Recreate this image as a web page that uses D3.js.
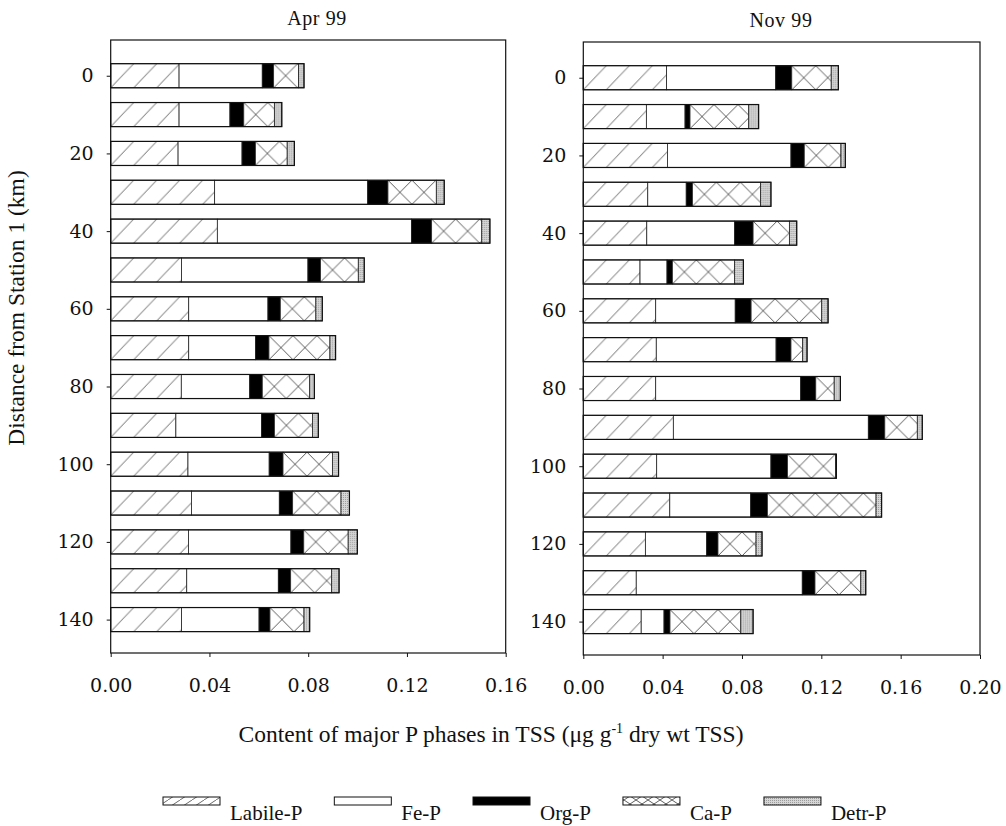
<!DOCTYPE html>
<html lang="en">
<head>
<meta charset="UTF-8" />
<title>Major P phases in TSS - Apr 99 / Nov 99</title>
<script src="https://d3js.org/d3.v7.min.js"></script>
<style>
  body { margin: 0; background: #fff; }
  svg { display: block; background: #fff; }
  .tick text { font-family: "DejaVu Serif", serif; font-size: 19px; fill: #111; }
  .tick line { stroke: #111; }
  .serif { font-family: "Liberation Serif", "Times New Roman", serif; fill: #111; }
</style>
</head>
<body>
<svg id="chart" width="1006" height="826"></svg>
<script>
// stations (km from Station 1) and P phases
const distances = [0, 10, 20, 30, 40, 50, 60, 70, 80, 90, 100, 110, 120, 130, 140];
const phases = ["Labile-P", "Fe-P", "Org-P", "Ca-P", "Detr-P"];

// Apr 99
const aprLabile = [0.0277, 0.0277, 0.0273, 0.0421, 0.0432, 0.0287, 0.0316, 0.0316, 0.0286, 0.0264, 0.0313, 0.0327, 0.0315, 0.0308, 0.0287];
const aprFe     = [0.0337, 0.0206, 0.0259, 0.0620, 0.0786, 0.0512, 0.0321, 0.0271, 0.0277, 0.0347, 0.0329, 0.0356, 0.0415, 0.0371, 0.0314];
const aprOrg    = [0.0046, 0.0056, 0.0054, 0.0082, 0.0082, 0.0051, 0.0050, 0.0054, 0.0051, 0.0052, 0.0056, 0.0054, 0.0052, 0.0050, 0.0044];
const aprCa     = [0.0101, 0.0124, 0.0129, 0.0196, 0.0203, 0.0153, 0.0144, 0.0247, 0.0192, 0.0154, 0.0200, 0.0196, 0.0180, 0.0166, 0.0138];
const aprDetr   = [0.0022, 0.0030, 0.0029, 0.0032, 0.0033, 0.0024, 0.0026, 0.0023, 0.0019, 0.0024, 0.0025, 0.0034, 0.0037, 0.0030, 0.0023];

// Nov 99
const novLabile = [0.0420, 0.0318, 0.0424, 0.0325, 0.0320, 0.0286, 0.0365, 0.0368, 0.0365, 0.0454, 0.0370, 0.0436, 0.0313, 0.0267, 0.0292];
const novFe     = [0.0550, 0.0195, 0.0623, 0.0194, 0.0443, 0.0136, 0.0401, 0.0604, 0.0731, 0.0983, 0.0576, 0.0408, 0.0309, 0.0837, 0.0115];
const novOrg    = [0.0081, 0.0025, 0.0067, 0.0031, 0.0093, 0.0027, 0.0080, 0.0075, 0.0076, 0.0083, 0.0083, 0.0084, 0.0057, 0.0064, 0.0030];
const novCa     = [0.0199, 0.0296, 0.0185, 0.0344, 0.0183, 0.0314, 0.0356, 0.0059, 0.0093, 0.0164, 0.0243, 0.0548, 0.0192, 0.0231, 0.0357];
const novDetr   = [0.0036, 0.0050, 0.0022, 0.0052, 0.0037, 0.0044, 0.0032, 0.0022, 0.0031, 0.0025, 0.0004, 0.0028, 0.0030, 0.0025, 0.0062];

// tick labels
const xTicksApr = [0, 0.04, 0.08, 0.12, 0.16];
const xTicksNov = [0, 0.04, 0.08, 0.12, 0.16, 0.20];
const yTicks = [0, 20, 40, 60, 80, 100, 120, 140];

function makeRows(series) {
  return distances.map((d, i) => {
    const row = { dist: d };
    phases.forEach((p, k) => { row[p] = series[k][i]; });
    return row;
  });
}

const panels = [
  { title: "Apr 99", rows: makeRows([aprLabile, aprFe, aprOrg, aprCa, aprDetr]),
    xMax: 0.16, ticks: xTicksApr, left: 110.7, right: 505.7, top: 40, bottom: 653, titleX: 317, titleY: 25 },
  { title: "Nov 99", rows: makeRows([novLabile, novFe, novOrg, novCa, novDetr]),
    xMax: 0.20, ticks: xTicksNov, left: 583.3, right: 980, top: 42, bottom: 655, titleX: 781, titleY: 27 }
];

const svg = d3.select("#chart");
const defs = svg.append("defs");

// bar height from the distance scale (same for both panels)
const yRef = d3.scaleLinear().domain([-9.2, 148.6]).range([40, 653]);
const bh = yRef(3.1) - yRef(-3.1);

// hatch patterns: one set for bars, a smaller one for the legend
function hatch(id, w, h) {
  const p = defs.append("pattern").attr("id", id)
    .attr("patternUnits", "userSpaceOnUse").attr("width", w).attr("height", h);
  p.append("rect").attr("width", w).attr("height", h).attr("fill", "#fff");
  [[-w, h, 0, 0], [0, h, w, 0], [w, h, 2 * w, 0]].forEach(s => {
    p.append("line").attr("x1", s[0]).attr("y1", s[1]).attr("x2", s[2]).attr("y2", s[3])
      .attr("stroke", "#444").attr("stroke-width", 0.8);
  });
}
function cross(id, w, h) {
  const p = defs.append("pattern").attr("id", id)
    .attr("patternUnits", "userSpaceOnUse").attr("width", w).attr("height", h);
  p.append("rect").attr("width", w).attr("height", h).attr("fill", "#fff");
  p.append("line").attr("x1", 0).attr("y1", 0).attr("x2", w).attr("y2", h)
    .attr("stroke", "#333").attr("stroke-width", 0.8);
  p.append("line").attr("x1", 0).attr("y1", h).attr("x2", w).attr("y2", 0)
    .attr("stroke", "#333").attr("stroke-width", 0.8);
}
function stipple(id) {
  const p = defs.append("pattern").attr("id", id)
    .attr("patternUnits", "userSpaceOnUse").attr("width", 2).attr("height", 2);
  p.append("rect").attr("width", 2).attr("height", 2).attr("fill", "#d6d6d6");
  p.append("rect").attr("width", 1).attr("height", 1).attr("fill", "#9c9c9c");
}
hatch("labile", 23, bh);
cross("ca", 24, bh);
hatch("labile-lg", 12, 8);
cross("ca-lg", 12, 8);
stipple("detr");

const fillBar = { "Labile-P": "url(#labile)", "Fe-P": "#fff", "Org-P": "#000", "Ca-P": "url(#ca)", "Detr-P": "url(#detr)" };
const fillLegend = { "Labile-P": "url(#labile-lg)", "Fe-P": "#fff", "Org-P": "#000", "Ca-P": "url(#ca-lg)", "Detr-P": "url(#detr)" };

const stack = d3.stack().keys(phases);

panels.forEach(p => {
  const x = d3.scaleLinear().domain([0, p.xMax]).range([p.left, p.right]);
  const y = d3.scaleLinear().domain([-9.2, 148.6]).range([p.top, p.bottom]);
  const layers = stack(p.rows);

  const g = svg.append("g");

  // stacked segments; each one gets its own origin so the hatch starts at the segment edge
  layers.forEach(layer => {
    g.selectAll(null)
      .data(layer)
      .join("g")
      .attr("transform", d => `translate(${x(d[0])},${y(d.data.dist) - bh / 2})`)
      .append("rect")
      .attr("width", d => x(d[1]) - x(d[0]))
      .attr("height", bh)
      .attr("fill", fillBar[layer.key])
      .attr("stroke", "#222")
      .attr("stroke-width", 0.8);
  });

  // outline of whole bar
  const last = layers[layers.length - 1];
  g.selectAll(null)
    .data(last)
    .join("rect")
    .attr("x", x(0))
    .attr("y", d => y(d.data.dist) - bh / 2)
    .attr("width", d => x(d[1]) - x(0))
    .attr("height", bh)
    .attr("fill", "none")
    .attr("stroke", "#111")
    .attr("stroke-width", 1.2);

  // frame
  g.append("rect")
    .attr("x", p.left).attr("y", p.top)
    .attr("width", p.right - p.left).attr("height", p.bottom - p.top)
    .attr("fill", "none").attr("stroke", "#111").attr("stroke-width", 1.2);

  // axes
  const xAxis = g.append("g")
    .attr("transform", `translate(0,${p.bottom})`)
    .call(d3.axisBottom(x).tickValues(p.ticks).tickFormat(d3.format(".2f")).tickSize(4).tickPadding(21.5));
  xAxis.select(".domain").remove();

  const yAxis = g.append("g")
    .attr("transform", `translate(${p.left},0)`)
    .call(d3.axisLeft(y).tickValues(yTicks).tickSize(4).tickPadding(13));
  yAxis.select(".domain").remove();

  g.append("text")
    .attr("class", "serif")
    .attr("x", p.titleX).attr("y", p.titleY)
    .attr("text-anchor", "middle")
    .style("font-size", "20px")
    .style("letter-spacing", "0.6px")
    .text(p.title);
});

// axis titles
const xt = svg.append("text")
  .attr("class", "serif")
  .attr("x", 491).attr("y", 742)
  .attr("text-anchor", "middle")
  .style("font-size", "23.5px");
xt.append("tspan").text("Content of major P phases in TSS (\u03bcg g");
xt.append("tspan").attr("dy", -9).style("font-size", "14px").text("-1");
xt.append("tspan").attr("dy", 9).text(" dry wt TSS)");

svg.append("text")
  .attr("class", "serif")
  .attr("transform", "translate(24,308) rotate(-90)")
  .attr("text-anchor", "middle")
  .style("font-size", "23.5px")
  .text("Distance from Station 1 (km)");

// legend, laid out left to right
const legend = svg.append("g");
let lx = 163;
phases.forEach(ph => {
  legend.append("rect")
    .attr("x", lx).attr("y", 797)
    .attr("width", 57).attr("height", 8)
    .attr("fill", fillLegend[ph])
    .attr("stroke", "#111").attr("stroke-width", 1);
  const t = legend.append("text")
    .attr("class", "serif")
    .attr("x", lx + 67).attr("y", 820)
    .style("font-size", "21px")
    .text(ph);
  lx += 67 + t.node().getComputedTextLength() + 32;
});
</script>
</body>
</html>
